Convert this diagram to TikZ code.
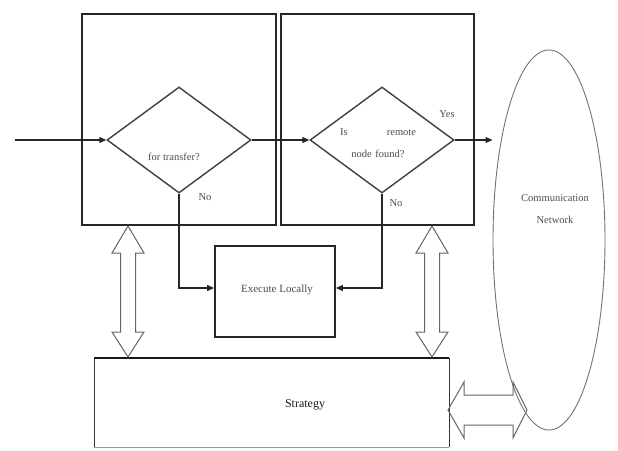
\documentclass[tikz,border=0pt]{standalone}
\usepackage{fontspec}
\setmainfont{Liberation Serif}
\usetikzlibrary{shapes.geometric,arrows.meta,calc}

\tikzset{
  frame/.style={draw=black!85, line width=2.2pt},
  decision/.style={draw=black!75, line width=1.4pt, diamond, aspect=1.36,
    minimum width=144pt, minimum height=106pt, inner sep=0pt},
  flow/.style={draw=black!85, line width=1.1pt,
    -{Triangle[length=7pt,width=6pt]}},
  hollow/.style={draw=black!60, line width=1pt, line join=miter},
  lbl/.style={text=black!70, font=\fontsize{10.5}{12}\selectfont, inner sep=0pt},
  cloud/.style={draw=black!55, line width=0.9pt, ellipse,
    minimum width=112pt, minimum height=380pt}
}

\begin{document}
\begin{tikzpicture}[x=1pt,y=-1pt]
\useasboundingbox (0,0) rectangle (618,450);
\fill[white] (0,0) rectangle (618,450);

% module frames
\draw[frame] (82,14) rectangle (276,225);
\draw[frame] (281,14) rectangle (474,225);

% decisions
\node[decision] (d1) at (179,140) {};
\node[decision] (d2) at (382,140) {};
\node[lbl] (t1) at (174,157) {for transfer?};
\node[lbl, align=center, text width=76pt, font=\fontsize{10.5}{22}\selectfont]
  (t2) at (378,143) {Is\hfill remote\\ node found?};
\node[lbl] (yes) at (447,114) {Yes};
\node[lbl] (no1) at (205,197) {No};
\node[lbl] (no2) at (396,203) {No};

% network
\node[cloud] (net) at (549,240) {};
\node[lbl, align=center, font=\fontsize{10.5}{22}\selectfont] (nett) at (555,209)
  {Communication\\Network};

% local execution
\node[draw=black!85, line width=1.8pt, minimum width=120pt, minimum height=91pt,
  inner sep=0pt] (exec) at (275,291.5) {};
\node[lbl, font=\fontsize{11}{13}\selectfont] (exect) at (277,290) {Execute Locally};

% strategy
\draw[draw=black!80, line width=0.9pt] (94,447) -- (94,358) -- (449,358) -- (449,447);
\draw[draw=black!40, line width=0.8pt] (94,447.5) -- (449,447.5);
\draw[draw=black!90, line width=2.4pt] (94,358) -- (449,358);
\node[text=black!90, font=\fontsize{12}{14}\selectfont, inner sep=0pt]
  (strat) at (305,405) {Strategy};

% control flow
\coordinate (in) at (15,140);
\draw[flow] (in) -- (d1.west);
\draw[flow] (d1.east) -- (d2.west);
\draw[flow] (d2.east) -- (net.west |- d2.east);
\draw[flow] (d1.south) |- (exec.west |- 0,288);
\draw[flow] (d2.south) |- (exec.east |- 0,288);

% two-way links
\coordinate (a1) at (128,226);
\coordinate (b1) at (128,357);
\coordinate (a2) at (432,226);
\coordinate (b2) at (432,357);
\foreach \a/\b in {a1/b1,a2/b2}{
  \draw[hollow] (\a) -- ([shift={(16,27)}]\a) -- ([shift={(7.5,27)}]\a)
    -- ([shift={(7.5,-25)}]\b) -- ([shift={(16,-25)}]\b) -- (\b)
    -- ([shift={(-16,-25)}]\b) -- ([shift={(-7.5,-25)}]\b)
    -- ([shift={(-7.5,27)}]\a) -- ([shift={(-16,27)}]\a) -- cycle;
}
\coordinate (h1) at (448,410);
\coordinate (h2) at (527,410);
\draw[hollow] (h1) -- ([shift={(16,-28)}]h1) -- ([shift={(16,-15)}]h1)
  -- ([shift={(-14,-15)}]h2) -- ([shift={(-14,-28)}]h2) -- (h2)
  -- ([shift={(-14,28)}]h2) -- ([shift={(-14,15)}]h2)
  -- ([shift={(16,15)}]h1) -- ([shift={(16,28)}]h1) -- cycle;
\end{tikzpicture}
\end{document}
